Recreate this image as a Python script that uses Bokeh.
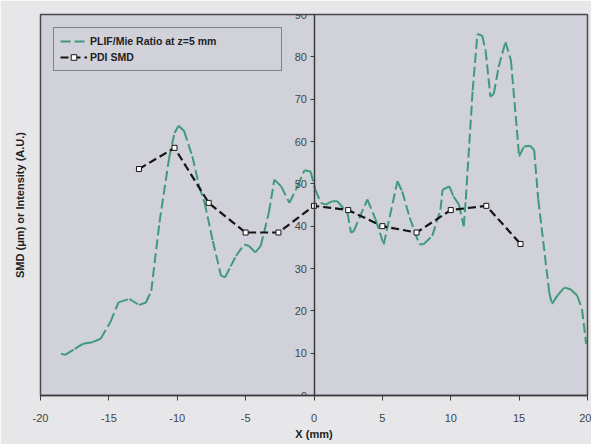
from bokeh.plotting import figure
from bokeh.models import Range1d, FixedTicker, Legend, LegendItem, Title
from bokeh.embed import file_html
from bokeh.resources import INLINE

# ---- data ----
plif_x = [-18.5, -18.2, -17.5, -16.9, -16.2, -15.6, -14.9, -14.3, -13.5, -12.8,
          -12.3, -11.9, -11.3, -10.6, -10.2, -9.9, -9.5, -8.9, -8.4, -8.0,
          -7.4, -6.8, -6.5, -6.1, -5.7, -5.1, -4.75, -4.3, -3.9, -3.3,
          -2.9, -2.4, -1.8, -1.2, -0.7, -0.25, 0.1, 0.5, 0.85, 1.35,
          1.7, 2.45, 2.7, 2.9, 3.9, 4.5, 5.1, 6.1, 6.45, 7.0,
          7.7, 8.0, 8.65, 9.25, 9.4, 9.9, 10.2, 10.6, 10.95, 11.1,
          11.6, 11.95, 12.3, 12.55, 12.9, 13.15, 13.5, 14.0, 14.4, 15.0,
          15.35, 15.8, 16.1, 16.4, 17.2, 17.4, 17.8, 18.3, 18.75, 19.25,
          19.6, 19.9]
plif_y = [9.9, 9.6, 11.0, 12.2, 12.6, 13.4, 17.3, 22.0, 22.8, 21.4,
          21.9, 24.7, 40.9, 56.0, 62.0, 63.7, 62.5, 56.5, 49.5, 45.5,
          36.5, 28.3, 27.9, 30.5, 33.0, 35.7, 35.3, 33.8, 35.3, 43.2,
          51.0, 49.4, 45.5, 49.4, 53.2, 52.9, 48.6, 45.5, 45.1, 45.9,
          45.9, 43.1, 38.5, 38.8, 46.3, 41.6, 35.7, 50.6, 48.2, 42.0,
          35.7, 35.7, 37.7, 43.9, 48.6, 49.4, 47.0, 45.1, 40.0, 46.3,
          72.0, 85.4, 85.0, 81.5, 70.6, 71.3, 77.6, 83.5, 79.2, 56.5,
          58.8, 59.0, 58.0, 46.3, 24.4, 21.6, 23.6, 25.5, 25.1, 23.6,
          20.4, 12.2]

smd_x = [-12.8, -10.2, -7.7, -5.0, -2.6, 0.0, 2.5, 5.0, 7.5, 10.0, 12.6, 15.1]
smd_y = [53.5, 58.5, 45.5, 38.5, 38.5, 44.8, 43.8, 40.0, 38.5, 43.8, 44.8, 35.8]

x_ticks = [-20, -15, -10, -5, 0, 5, 10, 15, 20]
x_tick_labels = ["-20", "-15", "-10", "-5", "0", "5", "10", "15", "20"]
y_ticks = [0, 10, 20, 30, 40, 50, 60, 70, 80, 90]

plif_label = "PLIF/Mie Ratio at z=5 mm"
smd_label = "PDI SMD"
x_title = "X (mm)"
y_title = "SMD (\u03bcm) or Intensity (A.U.)"

# ---- styles ----
PLOT_BG = "#d1d2d9"
PAGE_BG = "#e7e7ea"
GREEN = "#3e9a7b"
AXIS = "#3c3c3c"
FONT = "Liberation Sans"

p = figure(width=591, height=444, output_backend="svg", toolbar_location=None,
           x_range=Range1d(-20, 20), y_range=Range1d(0, 90),
           min_border_left=40, min_border_right=4, min_border_top=14,
           min_border_bottom=49)
p.background_fill_color = PLOT_BG
p.border_fill_color = PAGE_BG
p.outline_line_color = "#4a4a4a"
p.outline_line_width = 1.5
p.xgrid.visible = False
p.ygrid.visible = False

# x axis
xa = p.xaxis[0]
xa.ticker = FixedTicker(ticks=x_ticks)
xa.major_label_overrides = {t: s for t, s in zip(x_ticks, x_tick_labels)}
xa.minor_tick_line_color = None
xa.major_tick_out = 5
xa.major_tick_in = 0
xa.major_tick_line_color = AXIS
xa.axis_line_color = AXIS
xa.axis_line_width = 1.5
xa.major_label_standoff = 13
xa.major_label_text_font = FONT
xa.major_label_text_font_size = "11px"
xa.major_label_text_color = "#444444"
xa.axis_label = x_title
xa.axis_label_text_font = FONT
xa.axis_label_text_font_size = "11px"
xa.axis_label_text_font_style = "bold"
xa.axis_label_text_color = "#222222"
xa.axis_label_standoff = 3

# y axis crossing at x = 0
ya = p.yaxis[0]
ya.fixed_location = 0
ya.ticker = FixedTicker(ticks=y_ticks)
ya.minor_tick_line_color = None
ya.major_tick_out = 4
ya.major_tick_in = 0
ya.major_tick_line_color = AXIS
ya.axis_line_color = AXIS
ya.axis_line_width = 1.5
ya.major_label_standoff = 3
ya.major_label_text_font = FONT
ya.major_label_text_font_size = "11px"
ya.major_label_text_color = "#444444"

p.add_layout(Title(text=y_title, align="center", vertical_align="top",
                   text_font=FONT, text_font_size="11px",
                   text_font_style="bold", text_color="#222222",
                   standoff=26), "left")

# PLIF/Mie curve: dash pattern restarts on each segment (as in the original)
seg_xs = [[plif_x[i], plif_x[i + 1]] for i in range(len(plif_x) - 1)]
seg_ys = [[plif_y[i], plif_y[i + 1]] for i in range(len(plif_y) - 1)]
g = p.multi_line(seg_xs, seg_ys, line_color=GREEN, line_width=2,
                 line_dash="10 4", line_cap="butt")

# PDI SMD
l = p.line(smd_x, smd_y, line_color="#151515", line_width=2.2, line_dash="8 4")
s = p.scatter(smd_x, smd_y, marker="square", size=5, fill_color="white",
              line_color="#151515", line_width=1)

legend = Legend(items=[LegendItem(label=plif_label, renderers=[g]),
                       LegendItem(label=smd_label, renderers=[l, s])],
                location="top_left", margin=13, padding=6, spacing=2,
                label_height=14, glyph_height=14, glyph_width=27,
                label_standoff=3, label_width=185,
                label_text_font=FONT, label_text_font_size="10.5px",
                label_text_font_style="bold", label_text_color="#222222",
                border_line_color="#333333", border_line_width=1.5,
                background_fill_color=PLOT_BG, background_fill_alpha=1.0)
p.add_layout(legend)

open("out.html", "w").write(file_html(p, INLINE))
